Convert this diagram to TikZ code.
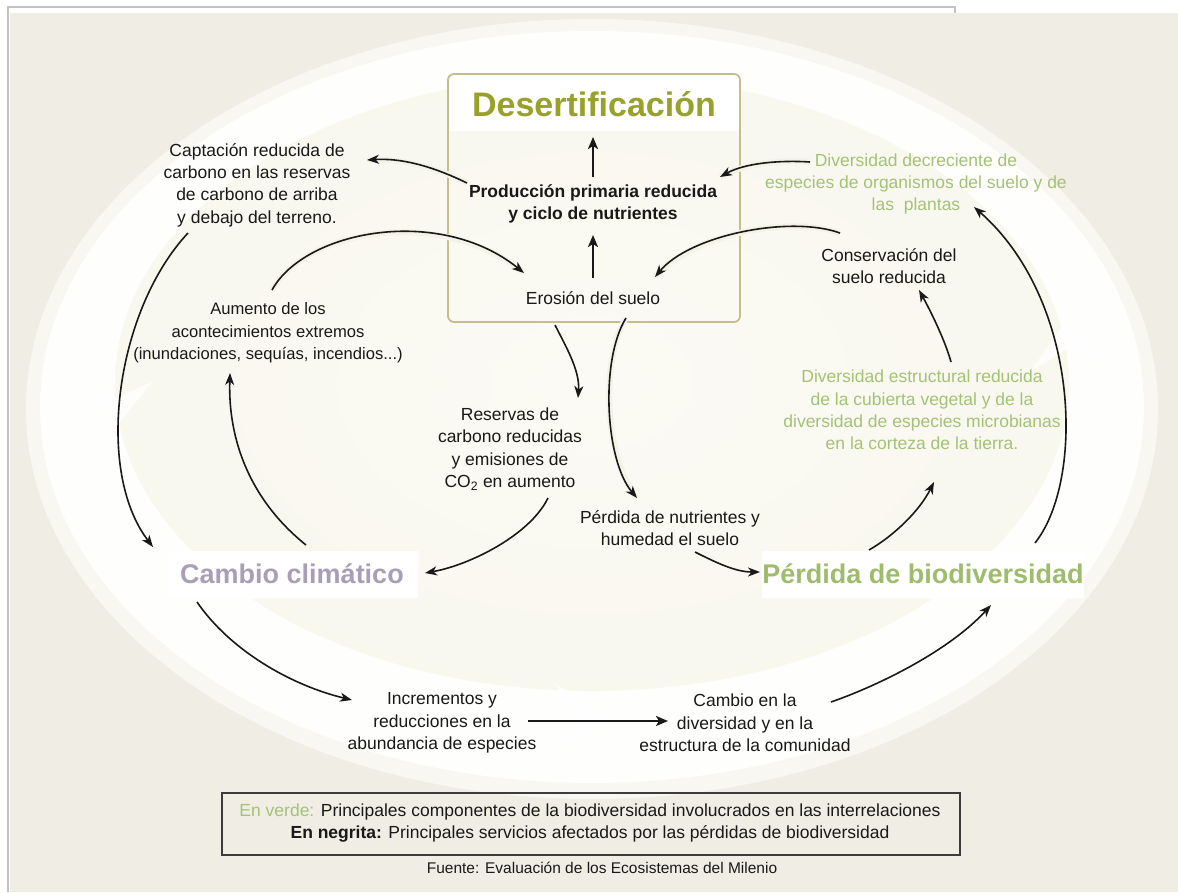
\documentclass[tikz,border=0pt]{standalone}
\usepackage{fontspec}
\setmainfont{Liberation Sans}
\usetikzlibrary{arrows.meta}
\definecolor{bgbeige}{RGB}{240,238,228}
\definecolor{incream}{RGB}{245,243,230}
\definecolor{incenter}{RGB}{251,250,244}
\definecolor{frameg}{RGB}{195,195,195}
\definecolor{boxol}{RGB}{196,190,140}
\definecolor{desol}{RGB}{152,162,42}
\definecolor{ccpurp}{RGB}{168,158,182}
\definecolor{pbgreen}{RGB}{158,188,108}
\definecolor{txgreen}{RGB}{164,194,118}
\definecolor{txblack}{RGB}{25,25,25}
\definecolor{legline}{RGB}{60,60,60}
\pgfdeclareradialshading{innersh}{\pgfpoint{0bp}{0bp}}{color(0bp)=(incenter); color(30bp)=(incenter!60!incream); color(50bp)=(incream)}
\pgfdeclarelayer{back}
\pgfdeclarelayer{arrowlayer}
\pgfsetlayers{back,arrowlayer,main}
\tikzset{
 txt/.style={align=center, text=txblack, font=\fontsize{17.5}{22.3}\selectfont, inner sep=0pt},
 gtxt/.style={txt, text=txgreen},
 btxt/.style={txt, font=\fontsize{17.5}{22.3}\selectfont\bfseries},
 big/.style={font=\fontsize{27}{30}\selectfont\bfseries, inner sep=0pt},
 arr/.style={draw=txblack, line width=1.6pt, -{Stealth[length=12pt,width=9pt,inset=3.5pt]}},
 thickarr/.style={draw=txblack, line width=2.6pt, -{Stealth[length=12pt,width=10pt,inset=3pt]}},
 halo/.style={preaction={draw=incream, line width=6pt, -}},
}
\begin{document}
\begin{tikzpicture}[x=1pt,y=-1pt]
\useasboundingbox (0,0) rectangle (1178,892);
\begin{pgfonlayer}{back}
\fill[white] (0,0) rectangle (1178,892);
\fill[bgbeige] (10,13) rectangle (1178,892);
\draw[frameg, line width=1.5pt] (955,13) -- (955,7) -- (8,7) -- (8,892);
% ring
\fill[white, opacity=0.55] (592,409) ellipse [x radius=566pt, y radius=390pt];
\fill[white, opacity=0.9] (592,407) ellipse [x radius=552pt, y radius=376pt];
\shade[shading=innersh] (592,383) ellipse [x radius=477pt, y radius=308pt];
% ring arrow tips
\fill[white, opacity=.85] (555,684) -- (616,718) -- (555,752) -- (578,718) -- cycle;
\fill[white, opacity=.8] (82,382) -- (117,398) -- (152,382) -- (117,426) -- cycle;
\fill[white, opacity=.85] (1030,372) -- (1068,318) -- (1108,362) -- (1068,348) -- cycle;
% box
\begin{scope}
\clip[rounded corners=6pt] (448,74) rectangle (740,322);
\fill[white] (448,74) rectangle (740,131);
\end{scope}
\node[draw=boxol, line width=1.8pt, rounded corners=6pt, minimum width=292pt, minimum height=248pt, inner sep=0pt] (desbox) at (594,198) {};
\end{pgfonlayer}

\node[font=\fontsize{34}{36}\selectfont\bfseries, text=desol, inner sep=0pt] (des) at (594,104) {Desertificación};
\node[btxt] (prod) at (593,204) {Producción primaria reducida\\y ciclo de nutrientes};
\node[txt] (eros) at (593,298) {Erosión del suelo};
\node[txt] (capt) at (257,185) {Captación reducida de\\carbono en las reservas\\de carbono de arriba\\y debajo del terreno.};
\node[txt, font=\fontsize{16.6}{22.3}\selectfont] (aum) at (268,333) {Aumento de los\\acontecimientos extremos\\(inundaciones, sequías, incendios...)};
\node[txt] (res) at (510,449) {Reservas de\\carbono reducidas\\y emisiones de\\CO\textsubscript{2} en aumento};
\node[txt] (nut) at (670,528) {Pérdida de nutrientes y\\humedad el suelo};
\node[big, text=ccpurp, fill=white, minimum width=251pt, minimum height=47pt] (cc) at (292,574) {Cambio climático};
\node[big, text=pbgreen, fill=white, minimum width=322pt, minimum height=47pt] (pb) at (923,574) {Pérdida de biodiversidad};
\node[txt] (inc) at (442,723) {Incrementos y\\reducciones en la\\abundancia de especies};
\node[txt] (cam) at (745,723) {Cambio en la\\diversidad y en la\\estructura de la comunidad};
\node[gtxt] (divdec) at (916,184) {Diversidad decreciente de\\especies de organismos del suelo y de\\las\ \ plantas};
\node[txt] (cons) at (889,266) {Conservación del\\suelo reducida};
\node[gtxt] (divest) at (922,410) {Diversidad estructural reducida\\de la cubierta vegetal y de la\\diversidad de especies microbianas\\en la corteza de la tierra.};
\node[draw=legline, line width=1.2pt, minimum width=738pt, minimum height=62pt, inner sep=0pt] (leg) at (591,824) {};
\node[align=center, font=\fontsize{17.5}{21.5}\selectfont, text=txblack, inner sep=0pt] (legt) at (590,823) {\textcolor{txgreen}{En verde:} Principales componentes de la biodiversidad involucrados en las interrelaciones\\\textbf{En negrita:} Principales servicios afectados por las pérdidas de biodiversidad};
\node[font=\fontsize{15.5}{17}\selectfont, text=txblack, inner sep=0pt] (src) at (602,868) {Fuente: Evaluación de los Ecosistemas del Milenio};

\begin{pgfonlayer}{arrowlayer}
\draw[thickarr] ([shift={(0,-27)}]prod.center) -- ([shift={(-1,33)}]des.center);
\draw[thickarr] ([shift={(0,-20)}]eros.center) -- ([shift={(0,31)}]prod.center);
\draw[arr,halo] ([shift={(-126,-21)}]prod.center) .. controls (430,165) and (400,158) .. ([shift={(110,-25)}]capt.center);
\draw[arr,halo] ([shift={(4,-43)}]aum.center) .. controls (305,230) and (440,205) .. ([shift={(-69,-25)}]eros.center);
\draw[arr] ([shift={(14,-29)}]cc.center) .. controls (250,500) and (228,440) .. ([shift={(-38,40)}]aum.center);
\draw[arr] ([shift={(-69,48)}]capt.center) .. controls (116,310) and (94,470) .. ([shift={(-139,-27)}]cc.center);
\draw[arr] ([shift={(-38,27)}]eros.center) .. controls (565,345) and (580,370) .. ([shift={(68,-51)}]res.center);
\draw[arr] ([shift={(38,49)}]res.center) .. controls (530,535) and (470,565) .. ([shift={(133,-1)}]cc.center);
\draw[arr,halo] ([shift={(33,20)}]eros.center) .. controls (600,360) and (605,460) .. ([shift={(-33,-30)}]nut.center);
\draw[arr] ([shift={(25,24)}]nut.center) .. controls (715,562) and (735,572) .. ([shift={(-163,-2)}]pb.center);
\draw[arr] ([shift={(-54,-24)}]pb.center) .. controls (895,535) and (920,510) .. ([shift={(12,72)}]divest.center);
\draw[arr] ([shift={(112,-31)}]pb.center) .. controls (1085,480) and (1080,300) .. ([shift={(58,23)}]divdec.center);
\draw[arr] ([shift={(29,-48)}]divest.center) .. controls (945,340) and (930,310) .. ([shift={(30,24)}]cons.center);
\draw[arr,halo] ([shift={(-49,-33)}]cons.center) .. controls (790,215) and (690,235) .. ([shift={(62,-21)}]eros.center);
\draw[arr,halo] ([shift={(-106,-22)}]divdec.center) .. controls (780,160) and (745,163) .. ([shift={(127,-27)}]prod.center);
\draw[arr] ([shift={(-95,28)}]cc.center) .. controls (230,650) and (290,685) .. ([shift={(-90,-23)}]inc.center);
\draw[thickarr] ([shift={(86,-2)}]inc.center) -- ([shift={(-77,-2)}]cam.center);
\draw[arr] ([shift={(86,-21)}]cam.center) .. controls (880,685) and (950,650) .. ([shift={(68,31)}]pb.center);
\end{pgfonlayer}
\end{tikzpicture}
\end{document}
